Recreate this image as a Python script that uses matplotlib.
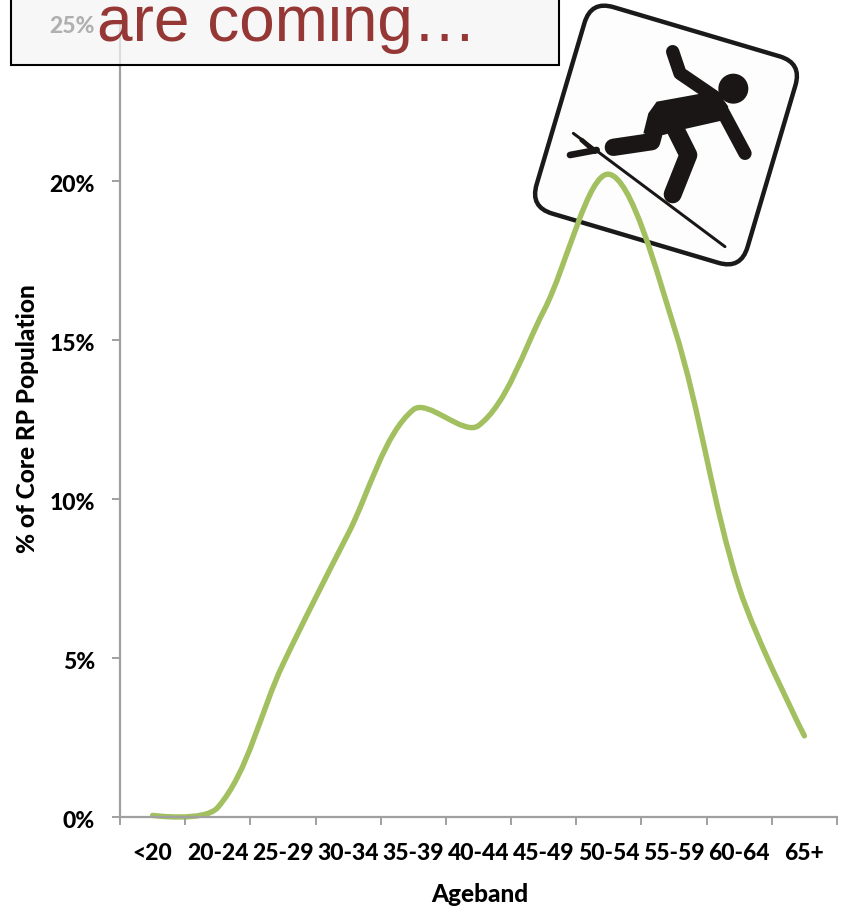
import matplotlib
matplotlib.use('Agg')
import matplotlib.pyplot as plt
import numpy as np
from matplotlib.path import Path
from matplotlib.patches import PathPatch, FancyBboxPatch, Rectangle, Circle, Polygon
from matplotlib.transforms import Affine2D, ScaledTranslation

agebands = ['<20', '20-24', '25-29', '30-34', '35-39', '40-44', '45-49', '50-54', '55-59', '60-64', '65+']
share = [0.05, 0.3, 4.8, 8.9, 12.8, 12.3, 15.9, 20.2, 15.4, 7.2, 2.55]
yticks = [0, 5, 10, 15, 20, 25]

GREY = '#a0a0a0'
GREEN = '#a2c05f'
RED = '#953735'
INK = '#1a1616'
TICK_SIZE = 16.5
TITLE_SIZE = 17.6

plt.rcParams['font.family'] = ['Lato', 'DejaVu Sans']
W, H = 843, 907
fig = plt.figure(figsize=(W / 100, H / 100), dpi=100)


def smooth_path(ax, xs, ys):
    # bezier smoothing; handle length follows the on-screen segment length
    pts = np.column_stack([xs, ys]).astype(float)
    px = ax.transData.transform(pts)
    seg = np.hypot(*np.diff(px, axis=0).T)
    out_arm = np.zeros_like(pts)
    in_arm = np.zeros_like(pts)
    for i in range(1, len(pts) - 1):
        d = (pts[i + 1] - pts[i - 1]) / 3
        total = seg[i - 1] + seg[i]
        out_arm[i] = d * seg[i] / total
        in_arm[i] = d * seg[i - 1] / total
    verts = [pts[0]]
    codes = [Path.MOVETO]
    for i in range(len(pts) - 1):
        c1 = pts[i] + out_arm[i]
        c2 = pts[i + 1] - in_arm[i + 1]
        verts += [c1, c2, pts[i + 1]]
        codes += [Path.CURVE4] * 3
    return Path(verts, codes)


# pixel canvas behind the chart for the warning sign
bg = fig.add_axes([0, 0, 1, 1], zorder=0)
bg.set_xlim(0, W)
bg.set_ylim(H, 0)
bg.axis('off')

# sign is laid out in its own coordinates, then rotated about its centre
sign = Affine2D().scale(1 / 3).translate(520, 0) + bg.transData
box = FancyBboxPatch((108, 82), 660, 646, boxstyle='round,pad=0,rounding_size=70',
                     fc='#fdfdfd', ec='#1a1a1a', lw=3.2,
                     transform=Affine2D().rotate_deg_around(438, 405, 16.5) + sign)
bg.add_patch(box)
figure_strokes = [
    ([458, 480, 590], [155, 220, 295], 40),
    ([600, 675], [320, 460], 40),
    ([280, 395, 415], [442, 425, 350], 52),
    ([460, 505, 458], [375, 465, 583], 54),
    ([160, 615], [400, 740], 9),
    ([150, 230], [465, 450], 20),
    ([185, 225], [420, 455], 14),
]
for xs, ys, w in figure_strokes:
    bg.plot(xs, ys, color=INK, lw=w / 3 * 0.72, solid_capstyle='round',
            solid_joinstyle='round', transform=sign)
torso = [(590, 272), (520, 285), (410, 305), (385, 340), (370, 400), (430, 405),
         (490, 388), (605, 362), (625, 320)]
bg.add_patch(Polygon(torso, closed=True, fc=INK, ec='none', transform=sign))
bg.add_patch(Circle((640, 266), 45, fc=INK, ec='none', transform=sign))

ax = fig.add_axes([120 / W, 1 - 817 / H, (837 - 120) / W, (817 - 21.5) / H], zorder=1)
ax.patch.set_visible(False)
ax.set_xlim(0, len(agebands))
ax.set_ylim(0, 25)
for side in ['top', 'right']:
    ax.spines[side].set_visible(False)
for side in ['left', 'bottom']:
    ax.spines[side].set_color(GREY)
    ax.spines[side].set_linewidth(1.6)

centers = np.arange(len(agebands)) + 0.5
ax.add_patch(PathPatch(smooth_path(ax, centers, share), fc='none', ec=GREEN, lw=3.9,
                       capstyle='round', clip_on=False))

ax.set_yticks(yticks)
ax.set_yticklabels([f'{v}%' for v in yticks], fontsize=TICK_SIZE, fontweight=900)
ax.set_xticks(np.arange(len(agebands) + 1))
ax.set_xticklabels([])
ax.set_xticks(centers, minor=True)
ax.set_xticklabels(agebands, minor=True, fontsize=TICK_SIZE, fontweight=900)
ax.tick_params(axis='x', which='major', length=5.5, width=1.4, color=GREY)
ax.tick_params(axis='x', which='minor', length=0, pad=18.5)
ax.tick_params(axis='y', length=5.5, width=1.4, color=GREY, pad=12.5)
nudge = ScaledTranslation(0, -3 / 100, fig.dpi_scale_trans)
for label in ax.get_yticklabels():
    label.set_transform(label.get_transform() + nudge)

fig.text(480 / W, 1 - 894 / H, 'Ageband', ha='center', va='center', fontsize=TITLE_SIZE, fontweight=900)
fig.text(28 / W, 1 - 419 / H, '% of Core RP Population', rotation=90, ha='center', va='center',
         fontsize=TITLE_SIZE, fontweight=900)

# header box sits over the top of the axis
top = fig.add_axes([0, 0, 1, 1], zorder=2)
top.set_xlim(0, W)
top.set_ylim(H, 0)
top.axis('off')
top.add_patch(Rectangle((10.5, -10), 548, 74.5, fc='#f5f5f5', ec='none', alpha=0.72))
top.add_patch(Rectangle((10.5, -10), 548, 74.5, fc='none', ec='black', lw=1.5))
top.text(97, 41, 'are coming…', color=RED, fontsize=46, family='Liberation Sans',
         ha='left', va='baseline', clip_on=True)

fig.savefig('out.png', dpi=100)
